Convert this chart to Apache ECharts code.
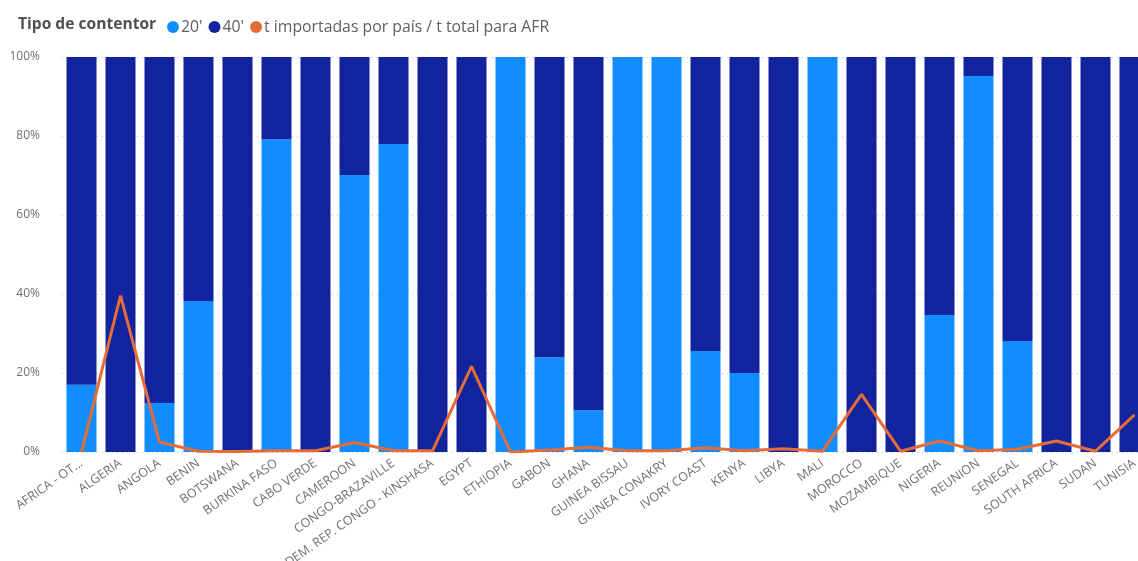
<!DOCTYPE html>
<html>
<head>
<meta charset="utf-8">
<script src="https://cdn.jsdelivr.net/npm/echarts@6/dist/echarts.min.js"></script>
<style>
  html, body { margin: 0; padding: 0; background: #fff; overflow: hidden; width: 1138px; height: 561px; }
  #chart { width: 1170px; height: 561px; }
</style>
</head>
<body>
<div id="chart"></div>
<script>
// Countries (Africa region)
const countries = [
  'AFRICA - OT...', 'ALGERIA', 'ANGOLA', 'BENIN', 'BOTSWANA', 'BURKINA FASO',
  'CABO VERDE', 'CAMEROON', 'CONGO-BRAZAVILLE', 'DEM. REP. CONGO - KINSHASA',
  'EGYPT', 'ETHIOPIA', 'GABON', 'GHANA', 'GUINEA BISSAU', 'GUINEA CONAKRY',
  'IVORY COAST', 'KENYA', 'LIBYA', 'MALI', 'MOROCCO', 'MOZAMBIQUE', 'NIGERIA',
  'REUNION', 'SENEGAL', 'SOUTH AFRICA', 'SUDAN', 'TUNISIA'
];

// Share of 20' containers per country (%)
const share20 = [
  17, 0, 12.4, 38.2, 0, 79.2, 0, 70.1, 78, 0,
  0, 100, 24, 10.6, 100, 100, 25.6, 20, 0, 100,
  0, 0, 34.7, 95.2, 28.1, 0, 0, 0
];

// Share of 40' containers per country (%)
const share40 = share20.map(v => +(100 - v).toFixed(1));

// Tonnes imported per country / total tonnes for AFR (%)
const tonnageShare = [
  0, 39.6, 2.5, 0.2, 0.1, 0.3, 0.3, 2.4, 0.3, 0.3,
  21.7, 0, 0.5, 1.2, 0.3, 0.3, 1.1, 0.3, 0.8, 0.2,
  14.6, 0.2, 2.8, 0.3, 0.7, 2.8, 0.2, 9.4
];

const yTicks = [0, 20, 40, 60, 80, 100];

const chart = echarts.init(document.getElementById('chart'));
chart.setOption({
  animation: false,
  textStyle: { fontFamily: 'Open Sans, Noto Sans, sans-serif' },
  title: {
    text: 'Tipo de contentor',
    left: 13, top: 12,
    textStyle: { fontSize: 15.6, fontWeight: 'bold', color: '#505050', fontFamily: 'Open Sans, sans-serif' }
  },
  legend: {
    left: 162, top: 14,
    icon: 'circle',
    itemWidth: 12, itemHeight: 12, itemGap: 6,
    textStyle: { fontSize: 15.8, color: '#606060', padding: [0, 0, 0, -3] },
    data: ["20'", "40'", 't importadas por país / t total para AFR']
  },
  grid: {
    left: 62, top: 57, width: 1092, bottom: 109,
    containLabel: false, outerBoundsMode: 'none'
  },
  xAxis: {
    type: 'category',
    data: countries,
    axisLine: { show: false },
    axisTick: { show: false },
    axisLabel: {
      interval: 0, rotate: 35, margin: 10,
      fontSize: 12.5, color: '#707070'
    }
  },
  yAxis: {
    type: 'value',
    min: 0, max: 100, interval: 20,
    axisLine: { show: false },
    axisTick: { show: false },
    axisLabel: {
      formatter: v => yTicks.includes(v) ? v + '%' : '',
      fontSize: 12, color: '#707070', margin: 22
    },
    splitLine: { lineStyle: { type: [1, 4], color: '#c8c8c8' } }
  },
  series: [
    {
      name: "20'", type: 'bar', stack: 'c', data: share20,
      barWidth: 30, itemStyle: { color: '#118DFF' }
    },
    {
      name: "40'", type: 'bar', stack: 'c', data: share40,
      barWidth: 30, itemStyle: { color: '#12239E' }
    },
    {
      name: 't importadas por país / t total para AFR', type: 'line',
      data: tonnageShare, showSymbol: false, symbol: 'circle', z: 5,
      lineStyle: { color: '#E66C37', width: 3 }, itemStyle: { color: '#E66C37' }
    }
  ]
});
</script>
</body>
</html>
